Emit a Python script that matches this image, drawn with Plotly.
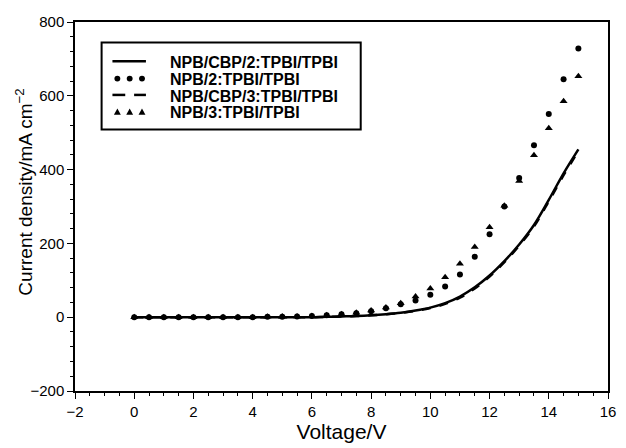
import plotly.graph_objects as go

# ---------------- data ----------------
voltage = [0, 0.5, 1, 1.5, 2, 2.5, 3, 3.5, 4, 4.5, 5, 5.5, 6, 6.5, 7, 7.5,
           8, 8.5, 9, 9.5, 10, 10.5, 11, 11.5, 12, 12.5, 13, 13.5, 14, 14.5, 15]

npb_cbp_2 = [0, 0, 0, 0, 0, 0, 0, 0, 0, 0, 0, 0, 0, 1, 2, 3,
             5, 8, 12, 18, 26, 38, 56, 81, 113, 152, 197, 250, 318, 390, 455]
npb_2 = [0, 0, 0, 0, 0, 0, 0, 0, 0, 1, 1, 2, 3, 5, 8, 11,
         16, 24, 35, 45, 61, 83, 116, 164, 225, 300, 377, 466, 551, 645, 728]
npb_cbp_3 = [0, 0, 0, 0, 0, 0, 0, 0, 0, 0, 0, 0, 0, 1, 2, 3,
             5, 8, 12, 17, 25, 36, 53, 78, 110, 149, 194, 246, 314, 385, 450]
npb_3 = [0, 0, 0, 0, 0, 0, 0, 0, 0, 1, 2, 2, 3, 5, 8, 12,
         18, 26, 38, 56, 78, 108, 145, 190, 244, 302, 369, 439, 512, 585, 653]

series_names = ["NPB/CBP/2:TPBI/TPBI", "NPB/2:TPBI/TPBI",
                "NPB/CBP/3:TPBI/TPBI", "NPB/3:TPBI/TPBI"]

x_range = [-2, 16]
y_range = [-200, 800]

# ---------------- layout geometry ----------------
W, H = 626, 448
L, R, T, B = 75, 10, 22, 48
PW, PH = W - L - R, H - T - B
FONT = "Liberation Sans, Arial, Helvetica, sans-serif"


def px(xp):
    return (xp - L) / PW


def py(yp):
    return (T + PH - yp) / PH


fig = go.Figure()
fig.add_trace(go.Scatter(x=voltage, y=npb_cbp_2, mode="lines", name=series_names[0],
                         line=dict(color="black", width=2.5, shape="spline")))
fig.add_trace(go.Scatter(x=voltage, y=npb_cbp_3, mode="lines", name=series_names[2],
                         line=dict(color="black", width=2.5, dash="dash", shape="spline")))
fig.add_trace(go.Scatter(x=voltage, y=npb_2, mode="markers", name=series_names[1],
                         marker=dict(color="black", size=6, symbol="circle")))
fig.add_trace(go.Scatter(x=voltage, y=npb_3, mode="markers", name=series_names[3],
                         marker=dict(color="black", size=7, symbol="triangle-up")))

axis_common = dict(showgrid=False, zeroline=False, showline=True, linecolor="black",
                   linewidth=1.5, mirror=True, ticks="outside", tickcolor="black",
                   tickwidth=1, ticklen=6,
                   tickfont=dict(family=FONT, size=15, color="black"))

fig.update_xaxes(range=x_range, dtick=2, tick0=0,
                 minor=dict(dtick=0.5, ticks="outside", ticklen=3, tickcolor="black"),
                 title=dict(text="Voltage/V", font=dict(family=FONT, size=21, color="black"),
                            standoff=4),
                 **axis_common)
fig.update_yaxes(range=y_range, dtick=200, tick0=0,
                 minor=dict(dtick=40, ticks="outside", ticklen=3, tickcolor="black"),
                 **axis_common)

shapes = []
annotations = []

# legend box
shapes.append(dict(type="rect", xref="paper", yref="paper",
                   x0=px(102), x1=px(365), y0=py(132), y1=py(43),
                   line=dict(color="black", width=2), fillcolor="white", layer="above"))

rows = [62.3, 80, 96.7, 114]
text_rows = [63.3, 80.8, 98.3, 115]
# row 1: solid line
shapes.append(dict(type="line", xref="paper", yref="paper", x0=px(113), x1=px(147),
                   y0=py(rows[0]), y1=py(rows[0]), line=dict(color="black", width=2.5)))
# row 2: three dots
for cx in (118, 130.5, 143):
    r = 3
    shapes.append(dict(type="circle", xref="paper", yref="paper",
                       x0=px(cx - r), x1=px(cx + r), y0=py(rows[1] + r), y1=py(rows[1] - r),
                       fillcolor="black", line=dict(color="black", width=0)))
# row 3: two dashes
for a, b in ((113, 126), (135, 147)):
    shapes.append(dict(type="line", xref="paper", yref="paper", x0=px(a), x1=px(b),
                       y0=py(rows[2]), y1=py(rows[2]), line=dict(color="black", width=2.5)))
# row 4: three triangles
for cx in (118, 130.5, 143):
    yc = rows[3]
    path = (f"M {px(cx - 3.5)} {py(yc + 3)} L {px(cx + 3.5)} {py(yc + 3)} "
            f"L {px(cx)} {py(yc - 3.5)} Z")
    shapes.append(dict(type="path", xref="paper", yref="paper", path=path,
                       fillcolor="black", line=dict(color="black", width=0)))

for name, yr in zip(series_names, text_rows):
    annotations.append(dict(xref="paper", yref="paper", x=px(169), y=py(yr),
                            xanchor="left", yanchor="middle", showarrow=False,
                            text=f"<b>{name}</b>",
                            font=dict(family=FONT, size=16, color="black")))

# y-axis title
annotations.append(dict(xref="paper", yref="paper", x=px(23), y=py(196),
                        xanchor="center", yanchor="middle", showarrow=False,
                        textangle=-90, text="Current density/mA cm<sup>\u22122</sup>",
                        font=dict(family=FONT, size=19, color="black")))

fig.update_layout(width=W, height=H, margin=dict(l=L, r=R, t=T, b=B),
                  paper_bgcolor="white", plot_bgcolor="white", showlegend=False,
                  shapes=shapes, annotations=annotations)

fig.write_html("out.html")
